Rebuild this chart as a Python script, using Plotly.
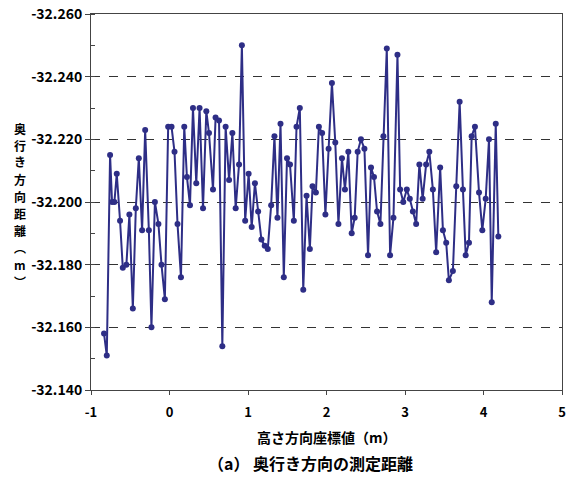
import plotly.graph_objects as go

# Height coordinate (m) and measured depth distance (m)
height_m = [
    -0.834, -0.799, -0.757, -0.732, -0.702, -0.672, -0.630, -0.595, -0.549, -0.511,
    -0.467, -0.429, -0.391, -0.349, -0.310, -0.263, -0.230, -0.186, -0.141, -0.102,
    -0.059, -0.017, 0.026, 0.064, 0.102, 0.146, 0.188, 0.222, 0.261, 0.299,
    0.341, 0.383, 0.427, 0.469, 0.503, 0.554, 0.587, 0.631, 0.673, 0.715,
    0.759, 0.801, 0.843, 0.886, 0.922, 0.964, 1.008, 1.047, 1.088, 1.129,
    1.171, 1.213, 1.252, 1.295, 1.337, 1.375, 1.414, 1.456, 1.497, 1.535,
    1.584, 1.618, 1.660, 1.704, 1.746, 1.788, 1.822, 1.865, 1.903, 1.944,
    1.986, 2.027, 2.069, 2.112, 2.152, 2.197, 2.235, 2.278, 2.321, 2.359,
    2.397, 2.439, 2.483, 2.529, 2.567, 2.605, 2.644, 2.687, 2.725, 2.768,
    2.810, 2.853, 2.904, 2.938, 2.978, 3.023, 3.061, 3.100, 3.142, 3.183,
    3.225, 3.269, 3.310, 3.355, 3.397, 3.448, 3.483, 3.525, 3.559, 3.610,
    3.653, 3.696, 3.738, 3.773, 3.815, 3.849, 3.891, 3.943, 3.985, 4.028,
    4.070, 4.105, 4.156, 4.189,
]
depth_m = [
    -32.158, -32.151, -32.215, -32.200, -32.200, -32.209, -32.194, -32.179, -32.180, -32.196,
    -32.166, -32.198, -32.214, -32.191, -32.223, -32.191, -32.160, -32.200, -32.193, -32.180,
    -32.169, -32.224, -32.224, -32.216, -32.193, -32.176, -32.224, -32.208, -32.199, -32.230,
    -32.206, -32.230, -32.198, -32.229, -32.222, -32.204, -32.227, -32.226, -32.154, -32.224,
    -32.207, -32.222, -32.198, -32.212, -32.250, -32.194, -32.209, -32.192, -32.206, -32.197,
    -32.188, -32.186, -32.185, -32.199, -32.221, -32.195, -32.225, -32.176, -32.214, -32.212,
    -32.194, -32.224, -32.230, -32.172, -32.202, -32.185, -32.205, -32.203, -32.224, -32.222,
    -32.196, -32.217, -32.238, -32.219, -32.193, -32.214, -32.204, -32.216, -32.190, -32.195,
    -32.216, -32.220, -32.217, -32.183, -32.211, -32.208, -32.197, -32.193, -32.221, -32.249,
    -32.183, -32.195, -32.247, -32.204, -32.200, -32.204, -32.201, -32.197, -32.193, -32.212,
    -32.201, -32.212, -32.216, -32.204, -32.184, -32.211, -32.191, -32.187, -32.175, -32.178,
    -32.205, -32.232, -32.204, -32.183, -32.187, -32.221, -32.224, -32.203, -32.191, -32.201,
    -32.220, -32.168, -32.225, -32.189,
]

x_ticks = [-1, 0, 1, 2, 3, 4, 5]
x_tick_labels = ["-1", "0", "1", "2", "3", "4", "5"]
y_ticks = [-32.26, -32.24, -32.22, -32.20, -32.18, -32.16, -32.14]
y_tick_labels = ["-32.260", "-32.240", "-32.220", "-32.200", "-32.180", "-32.160", "-32.140"]

x_title = "高さ方向座標値（m）"
y_title_chars = ["奥", "行", "き", "方", "向", "距", "離", "︵", "m", "︶"]
caption = "（a） 奥行き方向の測定距離"

LINE = "#2E2E86"
FONT = "Noto Sans CJK JP"
W, H = 575, 477
M = dict(l=91, r=13, t=14, b=87)

fig = go.Figure()
fig.add_trace(go.Scatter(
    x=height_m, y=depth_m, mode="lines+markers",
    line=dict(color=LINE, width=2),
    marker=dict(color=LINE, size=6, symbol="circle"),
    showlegend=False,
))

fig.update_layout(
    width=W, height=H,
    margin=M,
    paper_bgcolor="white", plot_bgcolor="white",
    font=dict(family=FONT, color="black", size=12),
    xaxis=dict(
        range=[-1, 5], tickvals=x_ticks, ticktext=x_tick_labels,
        showgrid=False, zeroline=False, automargin=False,
        showline=True, linecolor="#444", linewidth=1, mirror=True,
        ticks="outside", ticklen=4, tickcolor="#444",
        ticklabelstandoff=6, ticklabeloverflow="allow",
        tickfont=dict(family=FONT, size=13, weight="bold"),
    ),
    yaxis=dict(
        range=[-32.14, -32.26], tickvals=y_ticks, ticktext=y_tick_labels,
        showgrid=True, gridcolor="#333", griddash="dash", gridwidth=1,
        zeroline=False, automargin=False, ticklabeloverflow="allow",
        showline=True, linecolor="#444", linewidth=1, mirror=True,
        ticks="outside", ticklen=5, tickcolor="#444",
        tickfont=dict(family=FONT, size=14, weight="bold"),
        minor=dict(dtick=0.01, ticks="inside", ticklen=4, tickcolor="#444", showgrid=False),
    ),
)

# Vertical axis title: one upright character per row
plot_h = H - M["t"] - M["b"]
first_row_px, row_step_px = 128, 17
for i, ch in enumerate(y_title_chars):
    py = first_row_px + i * row_step_px
    fig.add_annotation(
        text=ch, xref="paper", yref="paper",
        x=(20 - M["l"]) / (W - M["l"] - M["r"]), y=(H - M["b"] - py) / plot_h,
        xanchor="center", yanchor="middle", showarrow=False,
        font=dict(family=FONT, size=12, weight="bold"),
    )

fig.add_annotation(
    text=x_title, xref="paper", yref="paper", x=0.5, y=-0.125,
    xanchor="center", yanchor="middle", showarrow=False,
    font=dict(family=FONT, size=14, weight="bold"),
)
fig.add_annotation(
    text=caption, xref="paper", yref="paper", x=0.465, y=-0.195,
    xanchor="center", yanchor="middle", showarrow=False,
    font=dict(family=FONT, size=16, weight="bold"),
)

fig.write_html("out.html")
